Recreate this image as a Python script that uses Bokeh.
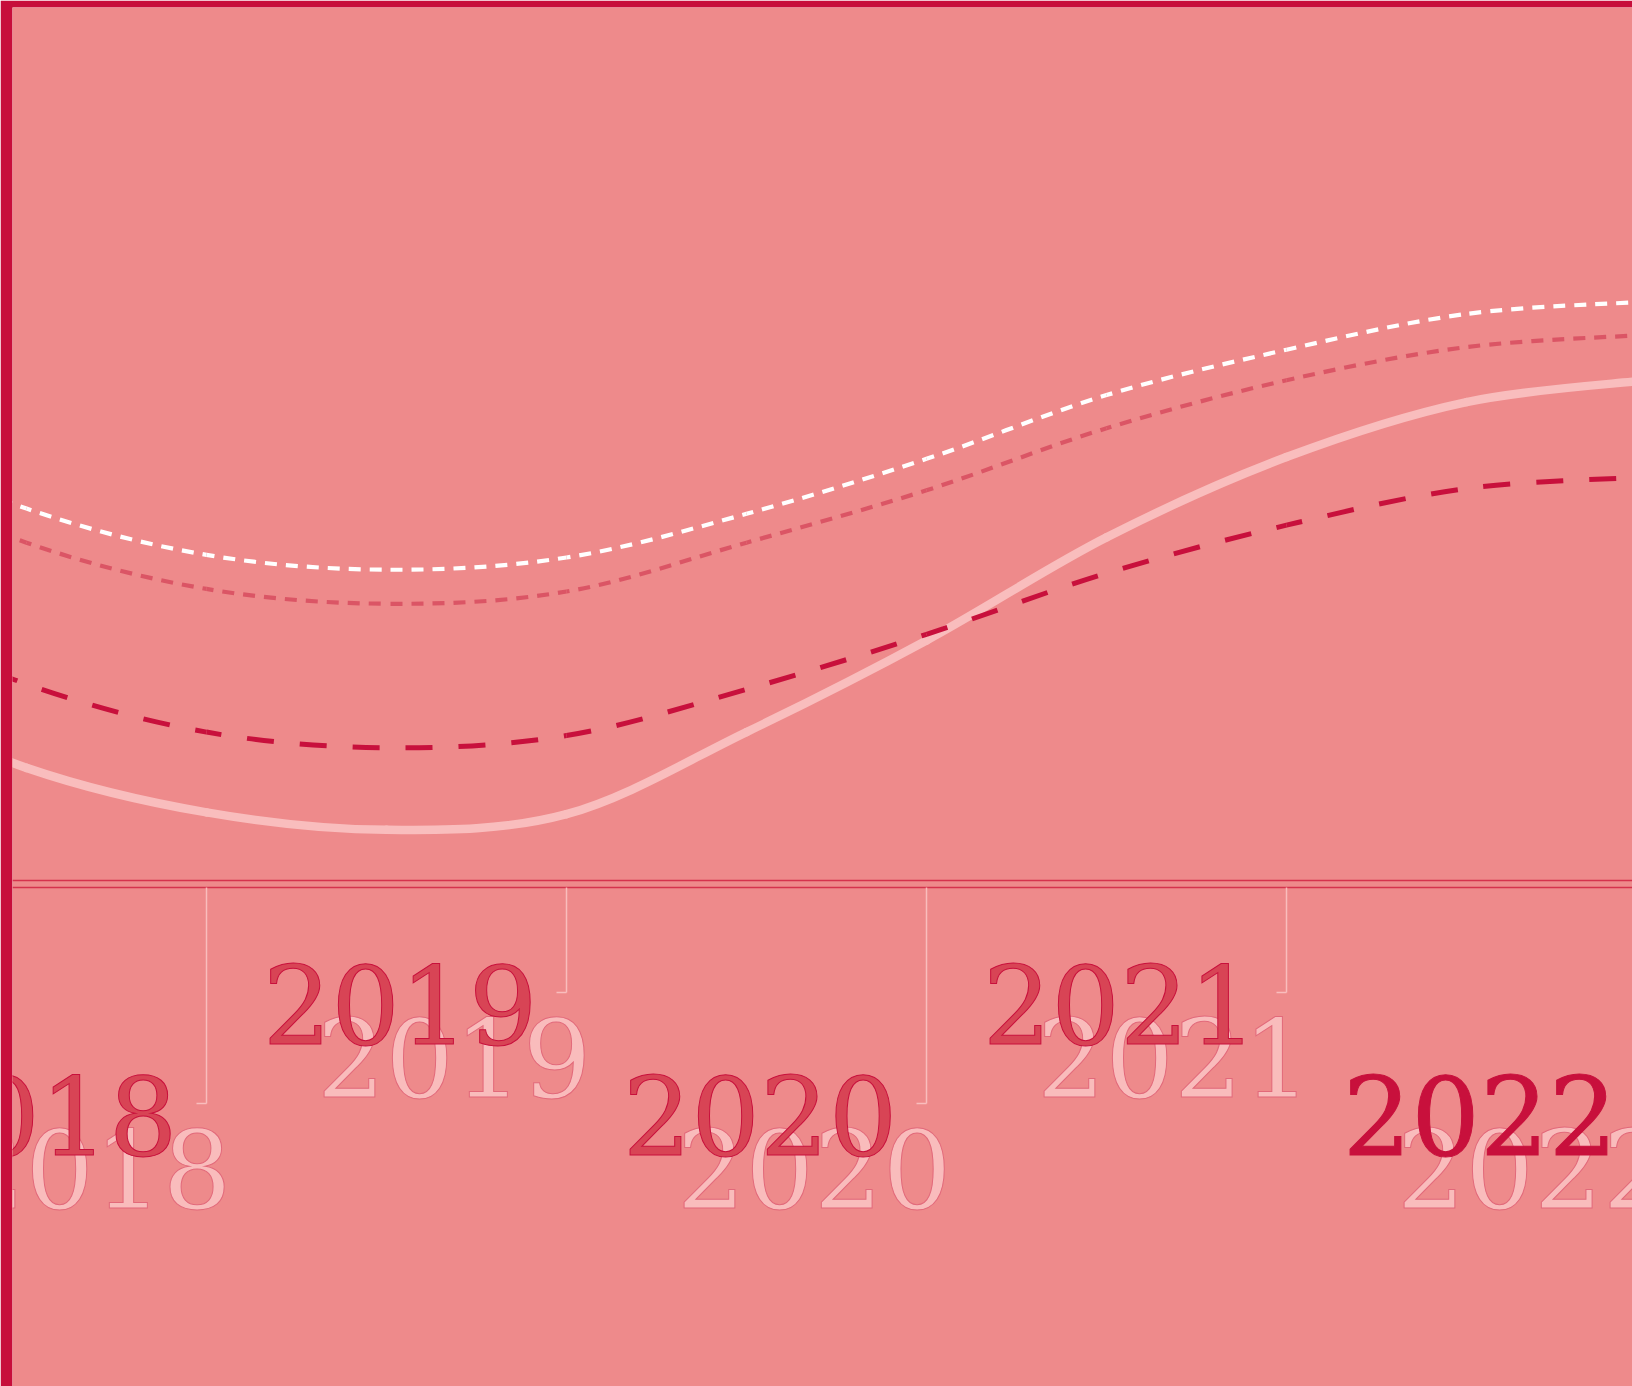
import math
from bokeh.plotting import figure
from bokeh.models import ColumnDataSource, Range1d, CDSView, IndexFilter
from bokeh.embed import file_html
from bokeh.resources import INLINE
from bokeh.core.properties import value

# ---------------- data ----------------
years = [2017.0, 2017.5, 2018.0, 2018.5, 2019.0, 2019.5, 2020.0, 2020.5, 2021.0, 2021.5, 2022.0]
series_white = [51.4, 42.6, 37.3, 35.6, 37.0, 42.0, 48.3, 55.6, 60.8, 64.9, 66.3]
series_rose = [47.7, 38.7, 33.4, 31.7, 33.1, 38.7, 44.7, 51.8, 57.3, 61.1, 62.5]
series_crimson = [31.4, 22.5, 17.0, 15.2, 16.6, 21.9, 28.2, 35.2, 40.7, 44.9, 46.2]
series_blush = [21.9, 12.9, 7.8, 5.8, 7.6, 17.0, 27.5, 39.3, 48.5, 54.8, 57.3]

tick_years = [2018, 2019, 2020, 2021, 2022]
tick_labels = ["2018", "2019", "2020", "2021", "2022"]

# ---------------- layout / style ----------------
W, H = 1632, 1386
EDGE_L, EDGE_T = 12, 7
PX_YEAR = 360.0
PX_UNIT = 8.73
X_START = 2018 - (206 - EDGE_L) / PX_YEAR
X_END = X_START + (W - EDGE_L) / PX_YEAR
Y_TOP = 100.0
Y_BOTTOM = Y_TOP - (H - EDGE_T) / PX_UNIT

BG = "#EE8A8B"
RED = "#C70E3B"
CRIMSON = "#C8103C"
ROSE = "#DB5565"
BLUSH = "#F9BDBD"
WHITE = "#FFFFFF"
AXIS_COLOR = "#D5334D"
DARK_TEXT = "#D84455"
LIGHT_TEXT = "#F9BCBC"
LIGHT_OUTLINE = "#E2697A"

p = figure(width=W, height=H,
           x_range=Range1d(X_START, X_END), y_range=Range1d(Y_BOTTOM, Y_TOP),
           output_backend="svg", toolbar_location=None,
           x_axis_location=None, y_axis_location=None, title=None,
           min_border_left=EDGE_L, min_border_top=EDGE_T,
           min_border_right=0, min_border_bottom=0,
           background_fill_color=BG, border_fill_color=RED,
           outline_line_color=None)
p.grid.visible = False


def _bez(p0, p1, p2, p3, t):
    u = 1 - t
    return u ** 3 * p0 + 3 * u * u * t * p1 + 3 * u * t * t * p2 + t ** 3 * p3


def curve_source(xs, ys, period):
    """Catmull-Rom curve through the data points, as cubic Bezier segments,
    with dash offsets so the dash pattern runs on across segments."""
    n = len(xs)
    d = dict(x0=[], y0=[], x1=[], y1=[], cx0=[], cy0=[], cx1=[], cy1=[], off=[])
    run = 0.0
    for i in range(n - 1):
        a = max(i - 1, 0)
        b = min(i + 2, n - 1)
        seg = (xs[i], ys[i],
               xs[i] + (xs[i + 1] - xs[a]) / 6.0, ys[i] + (ys[i + 1] - ys[a]) / 6.0,
               xs[i + 1] - (xs[b] - xs[i]) / 6.0, ys[i + 1] - (ys[b] - ys[i]) / 6.0,
               xs[i + 1], ys[i + 1])
        d["x0"].append(seg[0]); d["y0"].append(seg[1])
        d["cx0"].append(seg[2]); d["cy0"].append(seg[3])
        d["cx1"].append(seg[4]); d["cy1"].append(seg[5])
        d["x1"].append(seg[6]); d["y1"].append(seg[7])
        d["off"].append(int(round(run % period)) if period else 0)
        prev = None
        for k in range(41):
            t = k / 40.0
            sx = _bez(seg[0], seg[2], seg[4], seg[6], t) * PX_YEAR
            sy = _bez(seg[1], seg[3], seg[5], seg[7], t) * PX_UNIT
            if prev is not None:
                run += math.hypot(sx - prev[0], sy - prev[1])
            prev = (sx, sy)
    return ColumnDataSource(d)


BZ = dict(x0="x0", y0="y0", x1="x1", y1="y1", cx0="cx0", cy0="cy0", cx1="cx1", cy1="cy1")

# series lines
p.bezier(source=curve_source(years, series_blush, 0), line_color=BLUSH, line_width=8.5,
         line_cap="round", **BZ)
p.bezier(source=curve_source(years, series_crimson, 53), line_color=CRIMSON, line_width=5,
         line_dash="27 26", line_dash_offset="off", **BZ)
p.bezier(source=curve_source(years, series_rose, 21), line_color=ROSE, line_width=4.2,
         line_dash="12 9", line_dash_offset="off", **BZ)
p.bezier(source=curve_source(years, series_white, 21), line_color=WHITE, line_width=4.2,
         line_dash="12 9", line_dash_offset="off", **BZ)

# axis: double rule
AXIS_Y = [0.0, -7 / PX_UNIT]
p.segment(x0=[X_START] * 2, y0=AXIS_Y, x1=[X_END] * 2, y1=AXIS_Y,
          line_color=AXIS_COLOR, line_width=1.5)

# ticks with hooks (alternating lengths)
TICK_TOP = -7 / PX_UNIT
LONG_END = -(1103 - 880) / PX_UNIT
SHORT_END = -(992 - 880) / PX_UNIT
HOOK = 10 / PX_YEAR
tick_end = [LONG_END if i % 2 == 0 else SHORT_END for i in range(len(tick_years))]
tick_src = ColumnDataSource(dict(
    x=tick_years, top=[TICK_TOP] * len(tick_years), end=tick_end,
    hx=[t - HOOK for t in tick_years], label=tick_labels,
))
p.segment(x0="x", y0="top", x1="x", y1="end", source=tick_src, line_color=BLUSH, line_width=1.5)
p.segment(x0="hx", y0="end", x1="x", y1="end", source=tick_src, line_color=BLUSH, line_width=1.5)

# labels: light shadow copy, then dark copy (last year highlighted)
FONT = value("DejaVu Serif")
p.text(x="x", y="end", text="label", source=tick_src,
       text_font=FONT, text_font_size="108px", text_font_style="normal",
       text_align="right", text_baseline="alphabetic", x_offset=25, y_offset=65,
       text_color=LIGHT_TEXT, text_outline_color=LIGHT_OUTLINE)
n = len(tick_years)
p.text(x="x", y="end", text="label", source=tick_src,
       view=CDSView(filter=IndexFilter(list(range(n - 1)))),
       text_font=FONT, text_font_size="108px", text_font_style="normal",
       text_align="right", text_baseline="alphabetic", x_offset=-29, y_offset=12,
       text_color=DARK_TEXT, text_outline_color=CRIMSON)
p.text(x="x", y="end", text="label", source=tick_src,
       view=CDSView(filter=IndexFilter([n - 1])),
       text_font=FONT, text_font_size="108px", text_font_style="normal",
       text_align="right", text_baseline="alphabetic", x_offset=-29, y_offset=12,
       text_color=CRIMSON, text_outline_color=CRIMSON)

open("out.html", "w").write(file_html(p, INLINE))
